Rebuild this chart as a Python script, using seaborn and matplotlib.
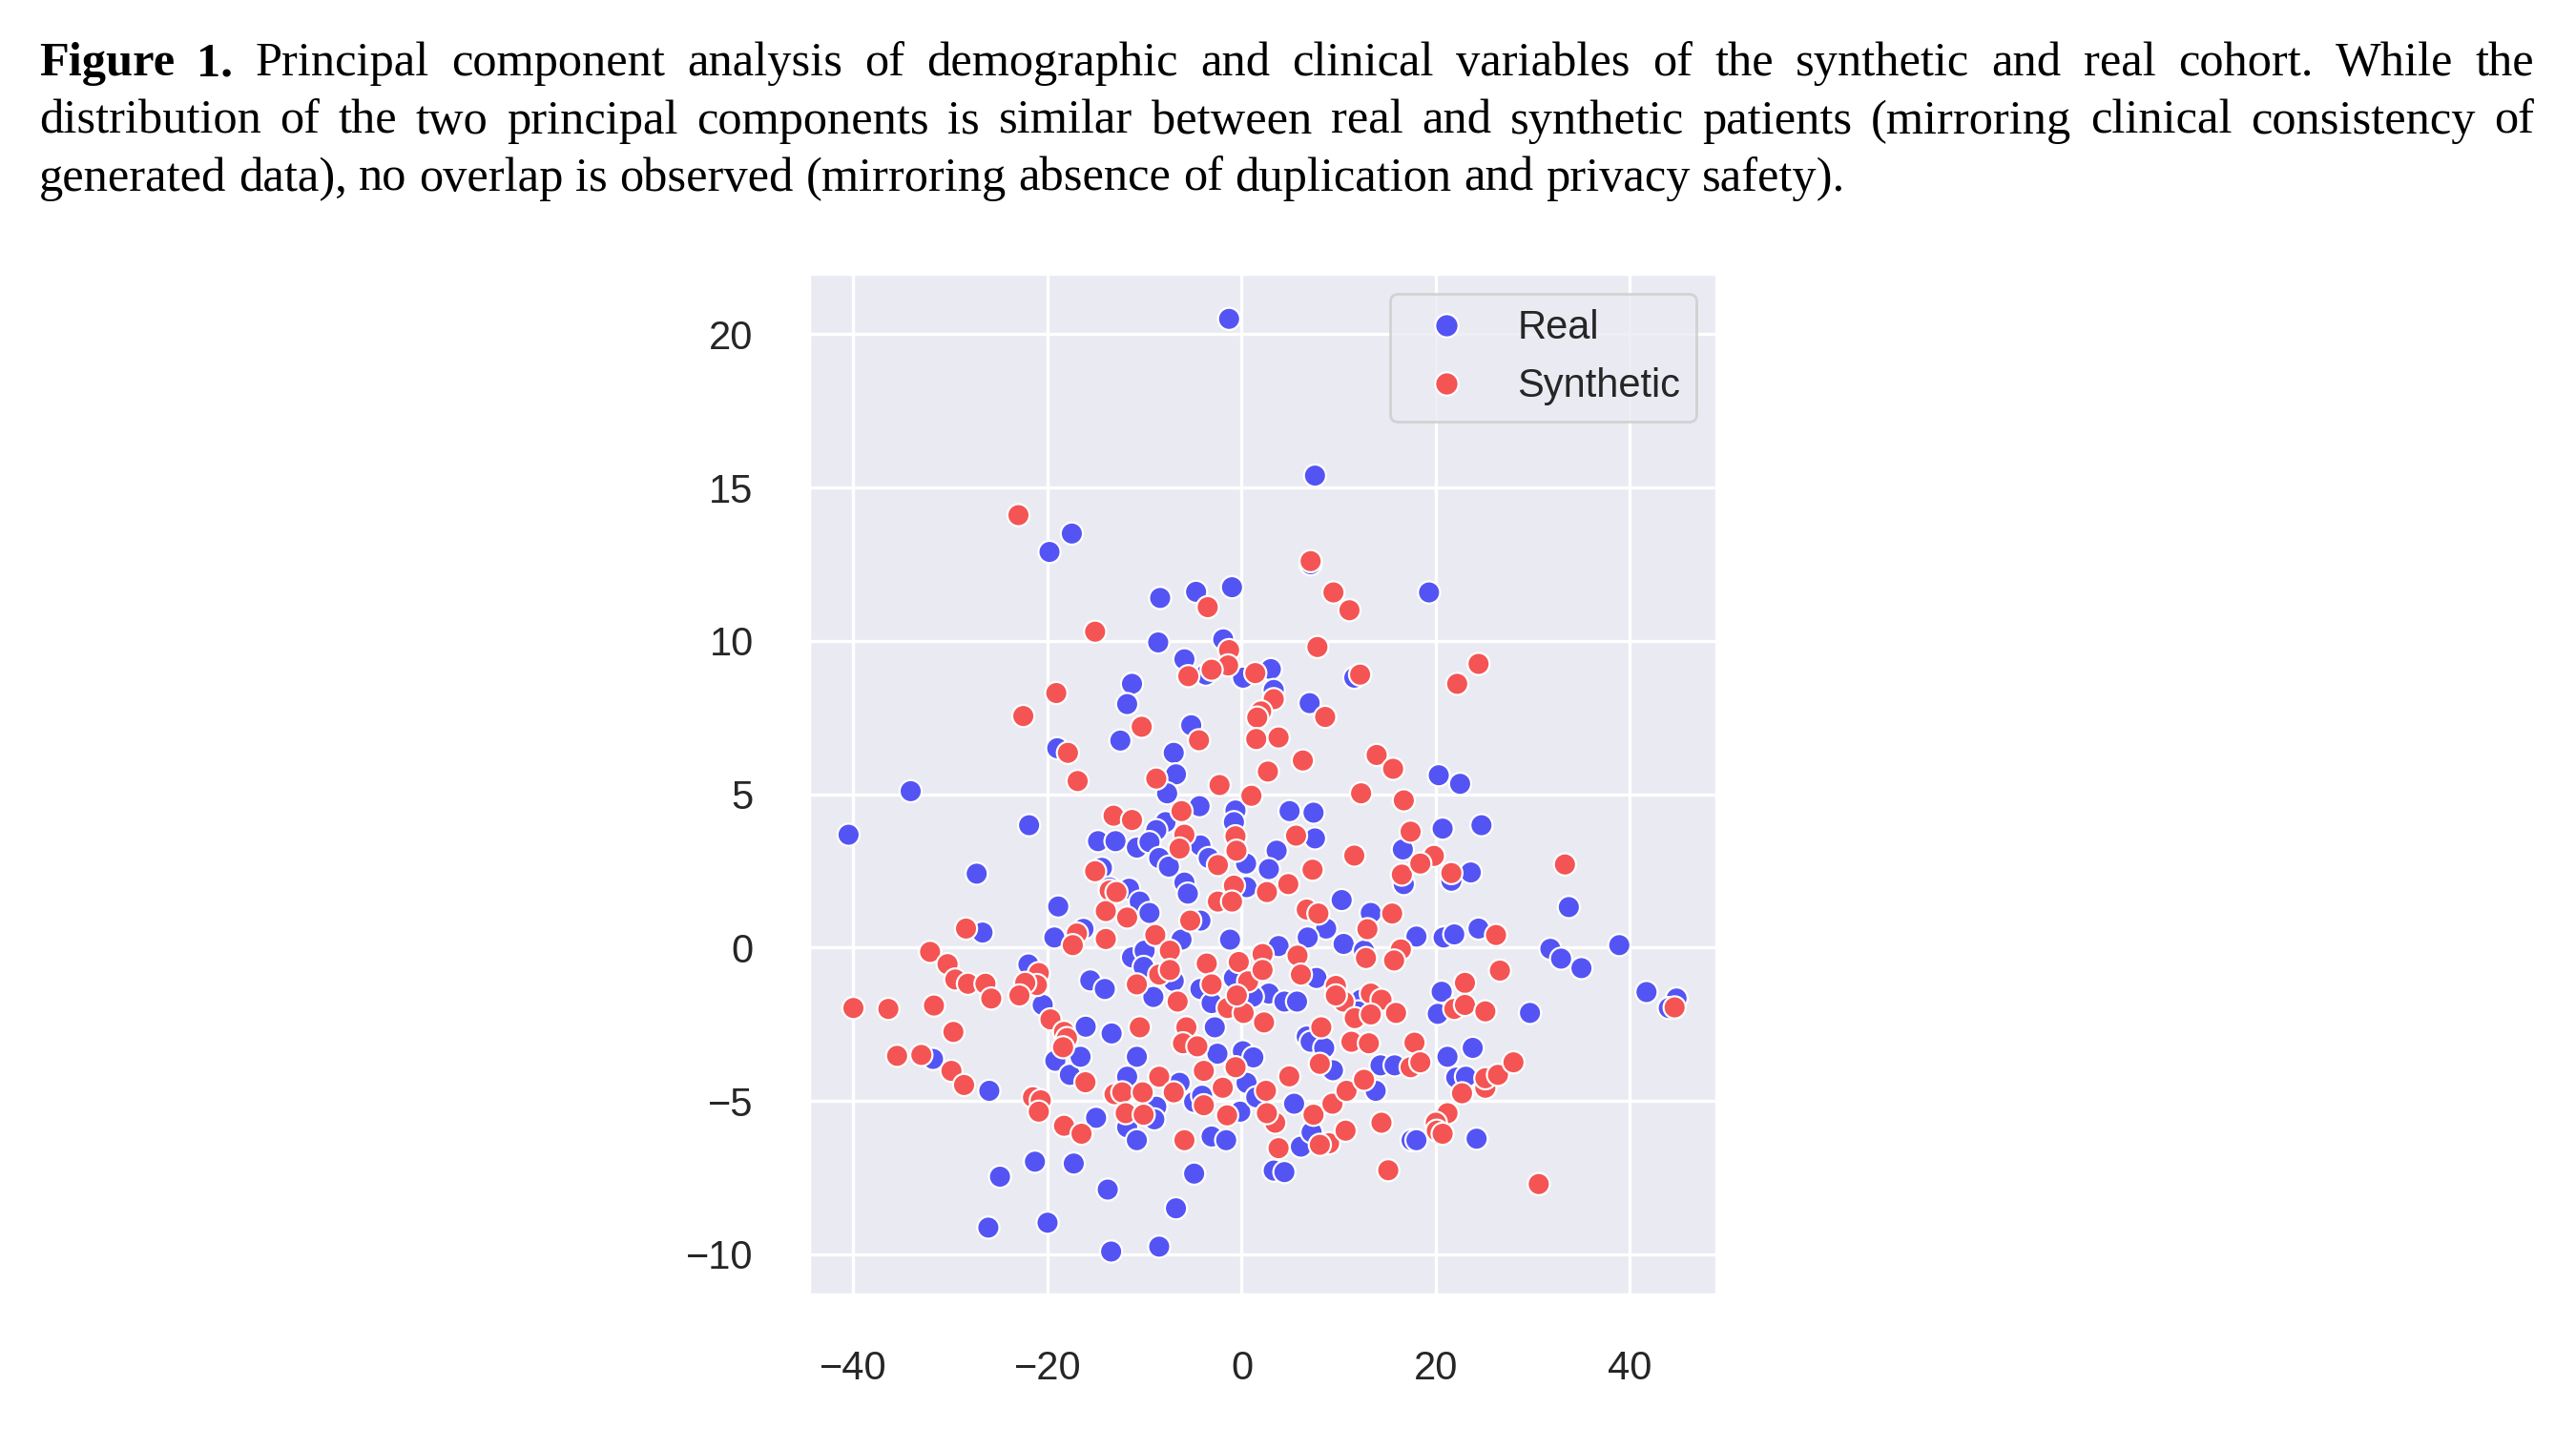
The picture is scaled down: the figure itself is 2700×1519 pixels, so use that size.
import matplotlib
matplotlib.use("Agg")
import matplotlib.pyplot as plt
import matplotlib.transforms as mtransforms
from matplotlib.lines import Line2D
import seaborn as sns
import pandas as pd

# principal components
real_pc1 = [-1.3, -17.5, -19.8, -8.4, -4.7, -1.0, -8.6, -1.9, -5.9, -3.7, 0.15, -11.3, -11.8, -5.2,
            -12.5, -19.0, -7.0, -34.1, 7.55, 19.3, 7.1, 3.0, 11.6, 3.3, 7.0, -40.5, -21.9, -27.3,
            -26.7, -14.8, -13.0, -14.4, -13.6, -18.9, -19.3, -16.3, -21.97, -15.6, -14.1, -20.5,
            -16.07, -13.4, -6.77, -7.68, -4.34, -0.64, -0.8, 4.93, 7.4, -7.85, -8.8, 7.55, -10.8,
            -9.5, -4.25, -3.4, -8.5, -7.5, 0.45, 3.6, 2.8, 16.6, 16.7, -5.9, -5.55, 0.5, 10.3,
            -11.6, -10.5, -9.5, -4.25, 8.7, 13.3, -6.2, -1.2, 3.8, 6.8, 10.5, 12.6, -11.3, -10.0,
            -10.1, -7.0, -9.1, -4.25, -3.1, -0.8, 7.7, 2.8, 4.4, 5.7, 1.15, -2.77, 12.3, 12.0,
            6.7, -31.8, -26.0, -15.0, -19.2, -17.7, -16.6, -21.3, -17.3, -24.9, -13.8, -26.1,
            -20.0, -13.45, -10.8, -2.5, 0.12, 1.2, -11.8, -6.4, -8.8, -11.8, -10.8, -9.0, -4.9,
            -4.08, -0.15, 0.5, 1.5, 5.4, 3.3, 4.4, 6.1, 7.2, 13.8, 17.5, 14.3, 15.75, 9.4, 7.1,
            8.5, -4.9, -6.77, -8.5, -3.1, -1.6, 20.3, 22.5, 20.7, 24.7, 21.6, 23.6, 33.7, 18.0,
            20.8, 21.9, 24.4, 31.8, 32.9, 35.0, 38.9, 20.6, 20.2, 29.7, 41.7, 44.8, 44.0, 21.2,
            23.8, 22.1, 23.1, 18.0, 24.2]
real_pc2 = [20.5, 13.5, 12.9, 11.4, 11.6, 11.75, 9.95, 10.05, 9.4, 8.9, 8.8, 8.6, 7.94, 7.25,
            6.75, 6.5, 6.35, 5.1, 15.39, 11.58, 12.5, 9.08, 8.8, 8.4, 7.97, 3.68, 3.99, 2.41,
            0.49, 3.47, 3.47, 2.6, 1.96, 1.34, 0.33, 0.61, -0.55, -1.07, -1.35, -1.87,
            -2.58, -2.8, 5.65, 5.03, 4.61, 4.47, 4.09, 4.45, 4.4, 4.09, 3.83, 3.56, 3.26,
            3.44, 3.33, 2.92, 2.92, 2.64, 2.74, 3.16, 2.56, 3.2, 2.07, 2.12, 1.76, 1.97, 1.55,
            1.92, 1.5, 1.13, 0.88, 0.62, 1.13, 0.26, 0.26, 0.05, 0.33, 0.12, -0.1, -0.32, -0.1,
            -0.63, -1.09, -1.61, -1.35, -1.81, -0.99, -0.99, -1.5, -1.76, -1.76, -1.6, -2.6, -1.7, -2.08,
            -2.9, -3.63, -4.67, -5.55, -3.69, -4.15, -3.56, -6.98, -7.04, -7.47, -7.89, -9.13,
            -8.97, -9.91, -3.56, -3.46, -3.38, -3.58, -4.21, -4.41, -5.19, -5.86, -6.28, -5.6, -5.03,
            -4.83, -5.35, -4.41, -4.88, -5.09, -7.27, -7.32, -6.49, -6.02, -4.67, -6.28, -3.84, -3.84, -4.0, -3.07,
            -3.27, -7.37, -8.5, -9.75, -6.16, -6.28, 5.62, 5.34, 3.88, 3.99, 2.18, 2.45, 1.32, 0.36,
            0.33, 0.43, 0.62, -0.04, -0.36, -0.67, 0.08, -1.44, -2.16, -2.13, -1.45, -1.66, -1.97, -3.56,
            -3.27, -4.24, -4.21, -6.28, -6.23]

synth_pc1 = [-23.0, -15.1, -19.1, -22.5, -10.3, -4.4, -17.9, -16.9, -3.5, -1.3, -1.4, -3.1, -5.5, 1.4,
             7.1, 9.45, 11.1, 7.8, 12.2, 24.4, 22.2, 3.3, 2.0, 1.6, 8.6, 1.5, 3.8, 6.3, 2.7, 13.9,
             15.6, 1.0, 12.3, 16.7, -28.4, -13.2, -15.1, -13.6, -14.0, -16.97, -17.4, -14.0, -32.1,
             -30.3, -29.5, -28.2, -26.4, -25.8, -20.9, -21.1, -22.3, -22.9, -19.7, -18.3, -18.0,
             -40.0, -36.4, -31.7, -29.7, -35.5, -33.0, -29.9, -28.6, -21.5, -20.7, -20.9, -18.3,
             -16.5, -18.4, -16.1, -13.1, -8.8, -2.28, -11.3, -6.2, -5.9, -6.4, -0.64, -0.54, 5.6,
             17.4, -2.45, 7.3, 11.6, 16.5, -0.8, 4.8, 2.6, -2.45, -1.0, -12.9, -11.8, -5.3, 6.7,
             7.9, 12.95, 15.5, -8.9, 12.8, 16.4, 15.7, -7.4, -8.5, -7.4, -10.8, -6.6, -3.6, -3.1,
             -0.3, 0.66, 2.15, 2.15, 5.75, 6.1, -1.45, 0.2, -0.5, 2.3, -5.7, -10.5, 9.7, 10.5, 9.7,
             11.65, 13.3, 14.4, 15.9, 13.3, 8.2, -6.05, -4.57, -8.5, -12.3, -10.2, -7.0, -11.95,
             -10.1, -3.9, -0.63, -1.95, -3.9, -1.5, 2.5, 4.9, 3.45, 2.6, 3.8, 7.4, 9.0, 8.05, 9.35,
             10.7, 10.8, 12.6, 14.4, 15.1, 17.4, 8.05, 11.3, 13.1, -5.9, 19.8, 18.4, 21.6, 33.3,
             26.2, 26.6, 23.0, 21.9, 23.0, 25.1, 44.6, 17.8, 18.4, 25.1, 25.1, 26.4, 28.0, 22.7,
             21.2, 20.0, 20.1, 20.7, 30.6]
synth_pc2 = [14.1, 10.3, 8.3, 7.55, 7.2, 6.76, 6.35, 5.43, 11.1, 9.7, 9.2, 9.06, 8.85, 8.95,
             12.6, 11.58, 11.0, 9.8, 8.9, 9.25, 8.6, 8.1, 7.7, 7.5, 7.52, 6.8, 6.85, 6.1, 5.74, 6.28,
             5.83, 4.95, 5.03, 4.8, 0.62, 4.3, 2.49, 1.86, 1.19, 0.46, 0.08, 0.28, -0.14,
             -0.54, -1.04, -1.18, -1.18, -1.66, -0.83, -1.22, -1.15, -1.56, -2.34, -2.75, -2.95,
             -1.97, -2.0, -1.89, -2.75, -3.53, -3.5, -4.02, -4.48, -4.88, -4.98, -5.35, -5.81,
             -6.07, -3.25, -4.39, -4.78, 5.51, 5.3, 4.16, 4.45, 3.68, 3.23, 3.63, 3.16, 3.65,
             3.78, 2.69, 2.54, 3.0, 2.38, 2.02, 2.07, 1.81, 1.5, 1.5, 1.81, 0.98, 0.88, 1.24,
             1.11, 0.6, 1.11, 0.41, -0.34, -0.06, -0.42, -0.1, -0.88, -0.73, -1.2, -1.76, -0.52, -1.2,
             -0.47, -1.1, -0.21, -0.73, -0.26, -0.88, -1.97, -2.13, -1.56, -2.44, -2.6, -2.6, -1.25, -1.76, -1.56,
             -2.3, -1.5, -1.7, -2.13, -2.18, -2.6, -3.12, -3.22, -4.21, -4.72, -4.72, -4.72, -5.4,
             -5.45, -4.02, -3.9, -4.57, -5.14, -5.47, -4.67, -4.2, -5.71, -5.4, -6.54, -5.45, -6.38, -6.43, -5.09,
             -5.97, -4.67, -4.31, -5.71, -7.26, -3.9, -3.79, -3.07, -3.12, -6.28, 2.99, 2.74, 2.43, 2.71,
             0.41, -0.75, -1.15, -2.0, -1.87, -2.08, -1.95, -3.1, -3.74, -4.57, -4.26, -4.15, -3.74, -4.75,
             -5.4, -5.71, -5.97, -6.07, -7.71]

x_ticks = [-40, -20, 0, 20, 40]
y_ticks = [-10, -5, 0, 5, 10, 15, 20]
cohorts = ["Real", "Synthetic"]

caption = [
    "Figure 1. Principal component analysis of demographic and clinical variables of the synthetic and real cohort. While the",
    "distribution of the two principal components is similar between real and synthetic patients (mirroring clinical consistency of",
    "generated data), no overlap is observed (mirroring absence of duplication and privacy safety).",
]

BLUE = "#5454F4"
RED = "#F45454"
palette = {"Real": BLUE, "Synthetic": RED}

df = pd.DataFrame({
    "PC1": real_pc1 + synth_pc1,
    "PC2": real_pc2 + synth_pc2,
    "Cohort": ["Real"] * len(real_pc1) + ["Synthetic"] * len(synth_pc1),
})

sns.set_theme(style="darkgrid")
plt.rcParams["font.family"] = ["Liberation Sans", "DejaVu Sans"]

W, H, DPI = 2700, 1519, 200
fig = plt.figure(figsize=(W / DPI, H / DPI), dpi=DPI)
fig.patch.set_facecolor("white")

ax = fig.add_axes([848 / W, 1 - 1357 / H, (1799 - 848) / W, (1357 - 287) / H])
sns.scatterplot(data=df, x="PC1", y="PC2", hue="Cohort", palette=palette,
                s=70, edgecolor="white", linewidth=0.8, legend=False, ax=ax)
ax.set_xlim(-44.57, 48.9)
ax.set_ylim(-11.31, 21.97)
ax.set_xticks(x_ticks)
ax.set_yticks(y_ticks)
ax.set_xlabel("")
ax.set_ylabel("")
ax.tick_params(labelsize=15, pad=15)
ax.grid(linewidth=1.2)

handles = [Line2D([], [], ls="", marker="o", markersize=8.8, markerfacecolor=palette[c],
                  markeredgecolor="white", markeredgewidth=0.8) for c in cohorts]
ax.legend(handles, cohorts, loc="upper right", fontsize=15)

# caption, justified like the paper
X0, X1 = 40.7, 2656
FS = 18.2
baselines = [H - 79.3, H - 140, H - 200]
ident = mtransforms.IdentityTransform()
renderer = fig.canvas.get_renderer()
space_w = 0.25 * FS * DPI / 72

for i, line in enumerate(caption):
    words = line.split(" ")
    texts = []
    for j, w in enumerate(words):
        bold = (i == 0 and j < 2)
        t = fig.text(0, 0, w, transform=ident, fontsize=FS,
                     family=["Liberation Serif", "DejaVu Serif"],
                     weight="bold" if bold else "normal",
                     ha="left", va="baseline", color="black")
        texts.append(t)
    widths = [t.get_window_extent(renderer).width for t in texts]
    if i < len(caption) - 1:
        gap = (X1 - X0 - sum(widths)) / (len(texts) - 1)
    else:
        gap = space_w
    x = X0
    for t, w in zip(texts, widths):
        t.set_position((x, baselines[i]))
        x += w + gap

fig.savefig("out.png", dpi=DPI, facecolor="white")
